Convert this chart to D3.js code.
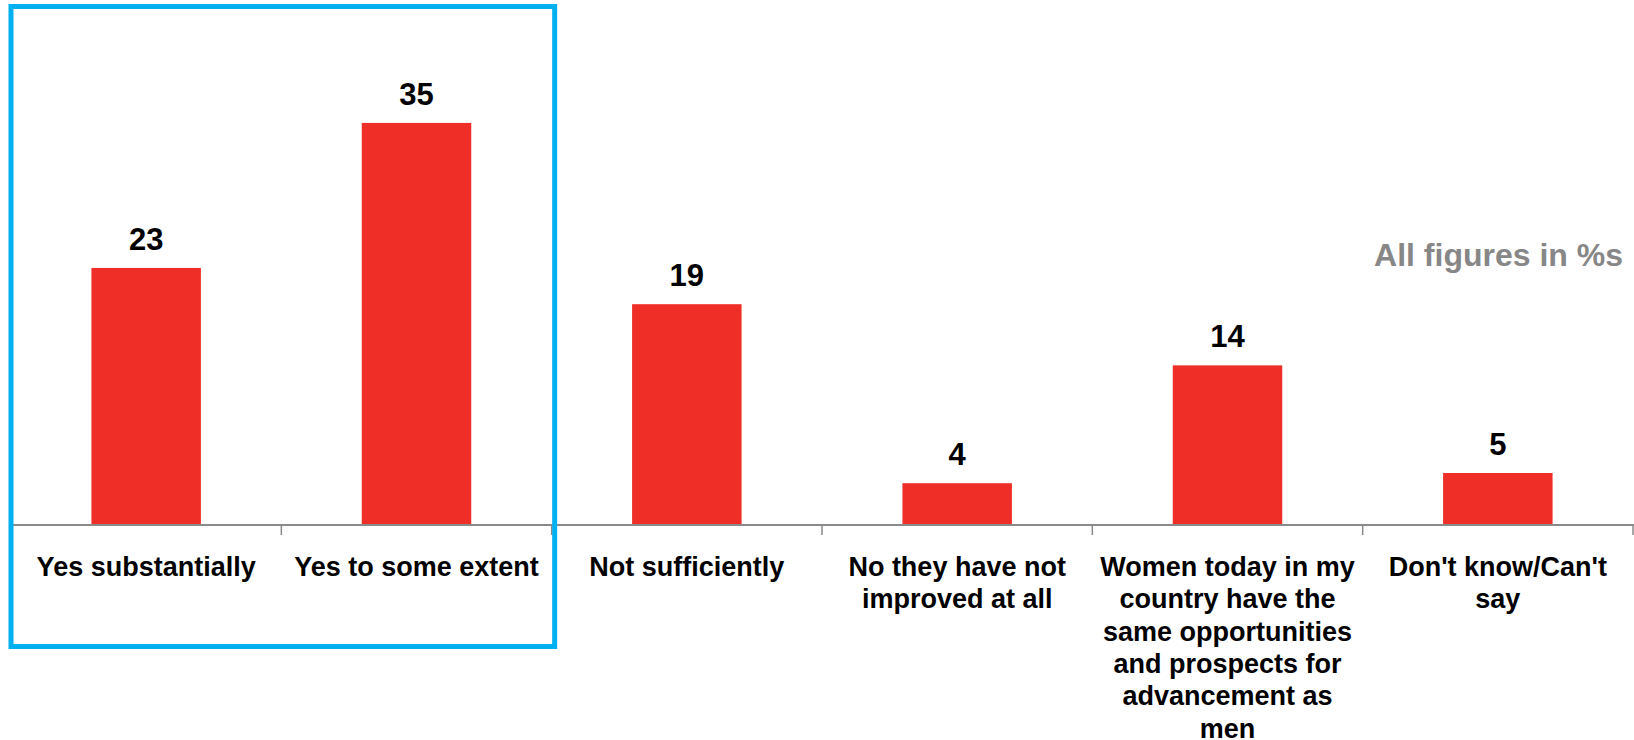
<!DOCTYPE html>
<html>
<head>
<meta charset="utf-8">
<script src="https://cdn.jsdelivr.net/npm/d3@7"></script>
<style>
  body { margin: 0; background: #fff; }
  text { font-family: "Liberation Sans", Arial, sans-serif; font-weight: bold; }
</style>
</head>
<body>
<script>
// gegevens uit de grafiek
var categorieen = ["Yes substantially", "Yes to some extent", "Not sufficiently",
  "No they have not improved at all",
  "Women today in my country have the same opportunities and prospects for advancement as men",
  "Don't know/Can't say"];
var waarden = [22.6, 35.4, 19.4, 3.6, 14.0, 4.5];
var notitie = "All figures in %s";

var breedte = 1634;
var hoogte = 740;
var basis = 524;

var svg = d3.select("body")
    .append("svg")
    .attr("width", breedte)
    .attr("height", hoogte);

// schaalfuncties
var x = d3.scaleBand()
    .domain(categorieen)
    .range([11, 1633]);

var y = d3.scaleLinear()
    .domain([0, 40])
    .range([basis, basis - 40 * 11.33]);

var staafBreedte = x.bandwidth() * 0.405;

// staven
svg.selectAll("rect.staaf")
    .data(waarden)
    .enter().append("rect")
    .attr("class", "staaf")
    .attr("x", function(d, i) { return x(categorieen[i]) + (x.bandwidth() - staafBreedte) / 2; })
    .attr("y", function(d) { return y(d); })
    .attr("width", staafBreedte)
    .attr("height", function(d) { return y(0) - y(d); })
    .style("fill", "#EE2E27");

// waarden boven de staven
svg.selectAll("text.waarde")
    .data(waarden)
    .enter().append("text")
    .attr("class", "waarde")
    .attr("x", function(d, i) { return x(categorieen[i]) + x.bandwidth() / 2; })
    .attr("y", function(d) { return y(d) - 18; })
    .attr("text-anchor", "middle")
    .attr("font-size", "31px")
    .attr("fill", "#000")
    .text(function(d) { return Math.round(d); });

// x-as lijn en streepjes
svg.append("line")
    .attr("x1", x.range()[0])
    .attr("x2", breedte)
    .attr("y1", basis + 1)
    .attr("y2", basis + 1)
    .attr("stroke", "#8a8a8a")
    .attr("stroke-width", 2);

svg.selectAll("line.streep")
    .data(categorieen)
    .enter().append("line")
    .attr("class", "streep")
    .attr("x1", function(d) { return x(d) + x.bandwidth(); })
    .attr("x2", function(d) { return x(d) + x.bandwidth(); })
    .attr("y1", basis)
    .attr("y2", basis + 11)
    .attr("stroke", "#8a8a8a")
    .attr("stroke-width", 1.5);

// categorie labels, afgebroken op de breedte van de band
var labels = svg.selectAll("text.label")
    .data(categorieen)
    .enter().append("text")
    .attr("class", "label")
    .attr("x", function(d) { return x(d) + x.bandwidth() / 2; })
    .attr("y", 576)
    .attr("text-anchor", "middle")
    .attr("font-size", "27px")
    .attr("fill", "#000")
    .text(function(d) { return d; });

labels.each(function(d) {
  var tekst = d3.select(this);
  var woorden = d.split(" ");
  var regel = [];
  var cx = tekst.attr("x");
  tekst.text(null);
  var tspan = tekst.append("tspan").attr("x", cx).attr("dy", 0);
  woorden.forEach(function(w) {
    regel.push(w);
    tspan.text(regel.join(" "));
    if (tspan.node().getComputedTextLength() > 264 && regel.length > 1) {
      regel.pop();
      tspan.text(regel.join(" "));
      regel = [w];
      tspan = tekst.append("tspan").attr("x", cx).attr("dy", "32.3px").text(w);
    }
  });
});

// notitie rechts
svg.append("text")
    .attr("x", 1623)
    .attr("y", 266)
    .attr("text-anchor", "end")
    .attr("font-size", "32px")
    .attr("fill", "#878787")
    .text(notitie);

// blauwe kader rond de eerste twee categorieen
svg.append("rect")
    .attr("x", x(categorieen[0]))
    .attr("y", 6.5)
    .attr("width", x(categorieen[1]) + x.bandwidth() + 3 - x(categorieen[0]))
    .attr("height", 640)
    .attr("fill", "none")
    .attr("stroke", "#00B0F0")
    .attr("stroke-width", 5);
</script>
</body>
</html>
